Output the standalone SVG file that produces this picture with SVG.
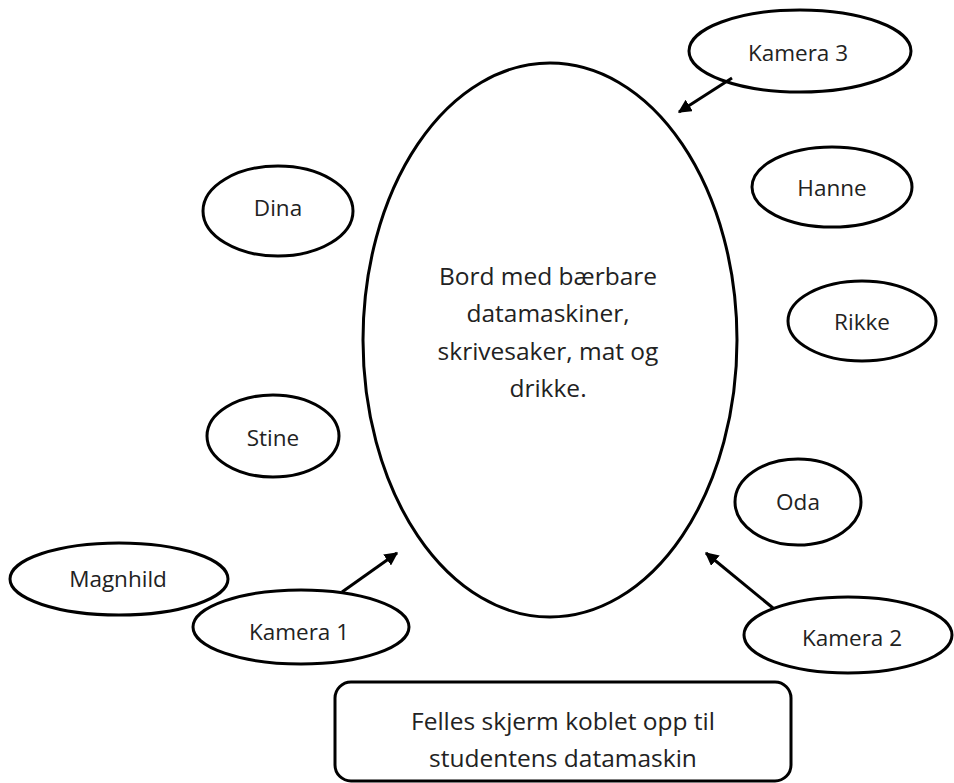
<svg xmlns="http://www.w3.org/2000/svg" width="954" height="783" viewBox="0 0 954 783">
<style>
.n{fill:#fff;stroke:#000;stroke-width:3}
.t{font-family:"Open Sans","Liberation Sans",sans-serif;font-size:22.5px;fill:#222;text-anchor:middle;dominant-baseline:central}
.c{font-size:24.5px}
.b{font-size:24.5px}
.e{stroke:#000;stroke-width:3;fill:none;marker-end:url(#ah)}
</style>
<defs>
<marker id="ah" viewBox="0 0 10 10" refX="9" refY="5" markerWidth="4.5" markerHeight="4.5" orient="auto" markerUnits="strokeWidth">
<path d="M0,0 L10,5 L0,10 z" fill="#000"/>
</marker>
</defs>
<rect width="954" height="783" fill="#fff"/>
<g id="table"><ellipse class="n" cx="550" cy="340" rx="187" ry="277"/>
<text class="t c" x="548" y="275">Bord med bærbare</text>
<text class="t c" x="548" y="312.5">datamaskiner,</text>
<text class="t c" x="548" y="350">skrivesaker, mat og</text>
<text class="t c" x="548" y="387.5">drikke.</text></g>
<g id="kamera3"><ellipse class="n" cx="800" cy="51" rx="111" ry="41"/><text class="t" x="798" y="52">Kamera 3</text></g>
<g id="dina"><ellipse class="n" cx="278" cy="211" rx="75" ry="45"/><text class="t" x="278" y="207">Dina</text></g>
<g id="hanne"><ellipse class="n" cx="832" cy="187" rx="80" ry="40"/><text class="t" x="832" y="187">Hanne</text></g>
<g id="rikke"><ellipse class="n" cx="862" cy="321" rx="74" ry="40"/><text class="t" x="862" y="321">Rikke</text></g>
<g id="stine"><ellipse class="n" cx="273" cy="436" rx="66" ry="41"/><text class="t" x="273" y="437">Stine</text></g>
<g id="oda"><ellipse class="n" cx="798" cy="502" rx="63" ry="43"/><text class="t" x="798" y="501">Oda</text></g>
<g id="magnhild"><ellipse class="n" cx="119" cy="579" rx="109" ry="36"/><text class="t" x="118" y="578">Magnhild</text></g>
<g id="kamera1"><ellipse class="n" cx="301" cy="627" rx="108" ry="37"/><text class="t" x="299" y="631">Kamera 1</text></g>
<g id="kamera2"><ellipse class="n" cx="848" cy="635" rx="104" ry="38"/><text class="t" x="852" y="637">Kamera 2</text></g>
<g id="skjerm"><rect class="n" x="335" y="682" width="456" height="99" rx="16"/>
<text class="t b" x="563" y="720">Felles skjerm koblet opp til</text>
<text class="t b" x="563" y="757">studentens datamaskin</text></g>
<g id="connectors">
<line class="e" x1="732" y1="78" x2="679" y2="112"/>
<line class="e" x1="342" y1="592" x2="397" y2="553"/>
<line class="e" x1="773" y1="608" x2="706" y2="553"/>
</g>
</svg>
